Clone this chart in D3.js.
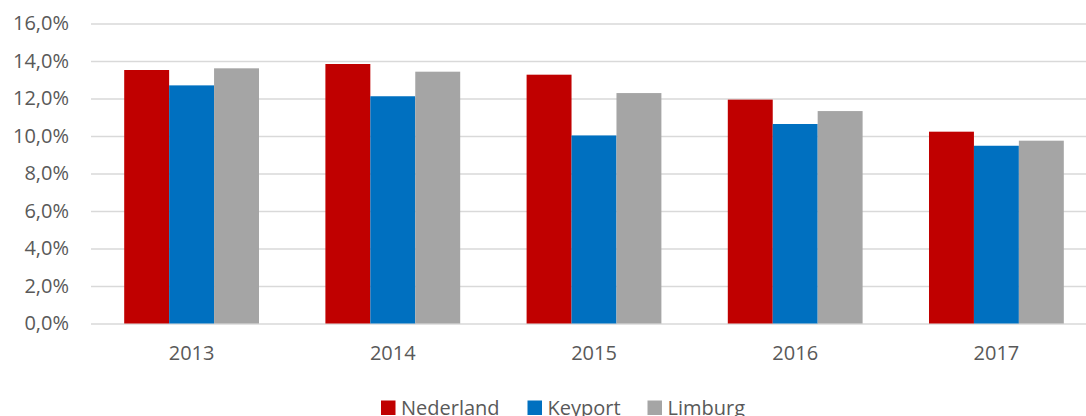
<!DOCTYPE html>
<html>
<head>
<meta charset="utf-8">
<script src="https://cdn.jsdelivr.net/npm/d3@7"></script>
<style>
  html, body { margin: 0; padding: 0; background: #fff; overflow: hidden; }
  svg { display: block; }
  text { font-family: "Open Sans", "Liberation Sans", sans-serif; fill: #595959; }
</style>
</head>
<body>
<svg id="chart" width="1086" height="416"></svg>
<script>
const years = ["2013", "2014", "2015", "2016", "2017"];
const seriesNames = ["Nederland", "Keyport", "Limburg"];
const nederland = [13.52, 13.84, 13.27, 11.94, 10.23];
const keyport   = [12.70, 12.12, 10.03, 10.64, 9.48];
const limburg   = [13.61, 13.43, 12.29, 11.33, 9.75];
const yTicks = [0, 2, 4, 6, 8, 10, 12, 14, 16];
const colors = ["#C00000", "#0070C0", "#A5A5A5"];

const seriesValues = [nederland, keyport, limburg];

const svg = d3.select("#chart");
const plot = { left: 91, right: 1097, top: 23.5, bottom: 323.5 };

const y = d3.scaleLinear().domain([0, 16]).range([plot.bottom, plot.top]);
const x0 = d3.scaleBand().domain(years).range([plot.left, plot.right])
  .paddingInner(0.33).paddingOuter(0.165);
const x1 = d3.scaleBand().domain(seriesNames).range([0, x0.bandwidth()]);

const fmt = v => v.toFixed(1).replace(".", ",") + "%";

// gridlines + y labels
const yAxis = d3.axisLeft(y).tickValues(yTicks).tickSize(-(plot.right - plot.left)).tickFormat(fmt).tickPadding(22);
const gy = svg.append("g").attr("transform", `translate(${plot.left},0)`).call(yAxis);
gy.select(".domain").remove();
gy.selectAll(".tick line").attr("stroke", "#d9d9d9").attr("stroke-width", 1.5);
gy.selectAll(".tick text").attr("font-size", 20).attr("fill", "#595959");

// bars
const groups = svg.append("g").selectAll("g").data(years).join("g")
  .attr("transform", d => `translate(${x0(d)},0)`);
groups.selectAll("rect")
  .data((yr, i) => seriesNames.map((s, j) => ({ s, j, v: seriesValues[j][i] })))
  .join("rect")
  .attr("x", d => x1(d.s))
  .attr("y", d => y(d.v))
  .attr("width", x1.bandwidth())
  .attr("height", d => y(0) - y(d.v))
  .attr("fill", d => colors[d.j]);

// x axis labels
const xAxis = d3.axisBottom(x0).tickSize(0).tickPadding(22);
const gx = svg.append("g").attr("transform", `translate(0,${plot.bottom})`).call(xAxis);
gx.select(".domain").remove();
gx.selectAll(".tick text").attr("font-size", 20).attr("fill", "#595959");

// legend
const legendX = [381, 527.5, 647.5];
const lg = svg.append("g").selectAll("g").data(seriesNames).join("g")
  .attr("transform", (d, i) => `translate(${legendX[i]},400.5)`);
lg.append("rect").attr("width", 14.5).attr("height", 14.5).attr("fill", (d, i) => colors[i]);
lg.append("text").attr("x", 20).attr("y", 14.5).attr("font-size", 20).text(d => d);
</script>
</body>
</html>
